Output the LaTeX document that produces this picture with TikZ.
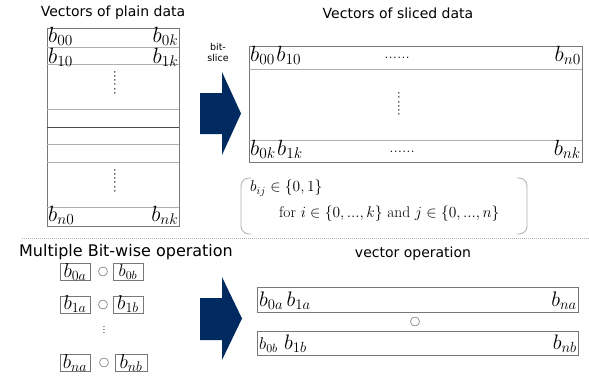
\RequirePackage{fix-cm}
\documentclass[tikz,border=0pt]{standalone}
\usepackage{xcolor}
\usepackage{fontspec}
\newfontfamily\labelfont{DejaVu Sans}
\usetikzlibrary{positioning}
\definecolor{slicenavy}{RGB}{0, 42, 96}
\definecolor{framegray}{RGB}{120, 120, 120}

\begin{document}
\begin{tikzpicture}[
    x=1pt, y=-1pt,
    title/.style={font=\labelfont\fontsize{14}{16}\selectfont},
    frame/.style={rectangle, draw=framegray, line width=0.8pt, inner sep=0pt},
    rowline/.style={draw=framegray!60, line width=0.8pt},
    bit/.style={inner sep=0pt, font=\fontsize{22}{24}\selectfont},
    vbit/.style={inner sep=0pt, font=\fontsize{21}{22}\selectfont},
    dots/.style={inner sep=0pt, font=\fontsize{17}{18}\selectfont},
    bitbox/.style={rectangle, draw=framegray, line width=0.8pt, minimum width=30pt, minimum height=17pt, inner sep=0pt, font=\fontsize{20}{22}\selectfont},
    opsym/.style={inner sep=0pt, font=\fontsize{10}{11}\selectfont},
    bracket/.style={draw=framegray!60, line width=0.8pt, rounded corners=8pt}
]
    \useasboundingbox (0,0) rectangle (589,383);

    % Plain data
    \node[title] (plaintitle) at (113,13) {Vectors of plain data};
    \node[frame, minimum width=132pt, minimum height=198pt] (plain) at (113,127) {};
    \draw[rowline] (plain.west |- 0,47) -- (plain.east |- 0,47);
    \draw[rowline] (plain.west |- 0,64) -- (plain.east |- 0,64);
    \draw[rowline] (plain.west |- 0,109) -- (plain.east |- 0,109);
    \draw[draw=black!70, line width=0.8pt] (plain.west |- 0,127) -- (plain.east |- 0,127);
    \draw[rowline] (plain.west |- 0,144) -- (plain.east |- 0,144);
    \draw[rowline] (plain.west |- 0,162) -- (plain.east |- 0,162);
    \draw[rowline] (plain.west |- 0,207) -- (plain.east |- 0,207);
    \node[bit, anchor=base west] (p00) at (48,42.5) {$b_{00}$};
    \node[bit, anchor=base east] (p0k) at (178.5,42.5) {$b_{0k}$};
    \node[bit, anchor=base west] (p10) at (48,63) {$b_{10}$};
    \node[bit, anchor=base east] (p1k) at (178.5,63) {$b_{1k}$};
    \node[dots, rotate=90] (pdotsa) at (115,82.5) {......};
    \node[dots, rotate=90] (pdotsb) at (115,180.5) {......};
    \node[bit, anchor=base west] (pn0) at (48,221) {$b_{n0}$};
    \node[bit, anchor=base east] (pnk) at (178.5,221) {$b_{nk}$};

    % Bit-slice arrow
    \node[align=center, inner sep=0pt, font=\labelfont\fontsize{9.5}{11}\selectfont] (slicetext) at (218,52) {bit-\\slice};
    \fill[slicenavy] (200,93) -- (222,93) -- (222,72) -- (241,113.5) -- (222,155) -- (222,134) -- (200,134) -- cycle;

    % Sliced data
    \node[title] (slicedtitle) at (398,13) {Vectors of sliced data};
    \node[frame, minimum width=333pt, minimum height=116pt] (sliced) at (415.5,104) {};
    \draw[rowline] (sliced.west |- 0,69) -- (sliced.east |- 0,69);
    \draw[rowline] (sliced.west |- 0,140) -- (sliced.east |- 0,140);
    \node[bit, anchor=base west] (s00) at (250,61) {$b_{00}$};
    \node[bit, base right=1pt of s00] (s10) {$b_{10}$};
    \node[dots, anchor=base] (sdotsa) at (397,58) {......};
    \node[bit, anchor=base east] (sn0) at (581,61) {$b_{n0}$};
    \node[dots, rotate=90] (sdotsb) at (399,104) {......};
    \node[bit, anchor=base west] (s0k) at (250,155) {$b_{0k}$};
    \node[bit, base right=1pt of s0k] (s1k) {$b_{1k}$};
    \node[dots, anchor=base] (sdotsc) at (402,152) {......};
    \node[bit, anchor=base east] (snk) at (581,155) {$b_{nk}$};

    % Condition
    \node[inner sep=0pt, align=left, anchor=north west, font=\fontsize{15.5}{26}\selectfont] (cond) at (250,180) {$b_{ij} \in \{0,1\}$\\\hspace{29pt}for $i \in \{0,...,k\}$ and $j \in \{0,...,n\}$};
    \draw[bracket] (251,178) -| (241,234) -- (251,234);
    \draw[bracket] (517,178) -| (527,234) -- (517,234);

    % Separator
    \draw[framegray!60, dash pattern=on 1pt off 1pt] (22,238.5) -- (589,238.5);

    % Bit-wise operation
    \node[font=\labelfont\fontsize{16}{18}\selectfont] (optitle) at (126,252) {Multiple Bit-wise operation};
    \node[bitbox] (b0a) at (75,272) {$b_{0a}$};
    \node[opsym] (op0) at (103,272) {$\bigcirc$};
    \node[bitbox, font=\fontsize{17}{20}\selectfont] (b0b) at (128,272) {$b_{0b}$};
    \node[bitbox] (b1a) at (75,304.5) {$b_{1a}$};
    \node[opsym] (op1) at (103,304.5) {$\bigcirc$};
    \node[bitbox] (b1b) at (128,304.5) {$b_{1b}$};
    \node[inner sep=0pt, rotate=90, font=\fontsize{11}{12}\selectfont] (opdots) at (104,330) {...};
    \node[bitbox] (bna) at (75,363) {$b_{na}$};
    \node[opsym] (opn) at (104,363) {$\bigcirc$};
    \node[bitbox, minimum width=32pt] (bnb) at (131,363) {$b_{nb}$};

    % Vector arrow
    \fill[slicenavy] (200,298) -- (222,298) -- (222,277) -- (242,318.5) -- (222,360) -- (222,340) -- (200,340) -- cycle;

    % Vector operation
    \node[title] (vectitle) at (413,254) {vector operation};
    \node[frame, minimum width=321pt, minimum height=25pt] (veca) at (417.5,299.5) {};
    \node[frame, minimum width=321pt, minimum height=24pt] (vecb) at (417.5,343) {};
    \node[vbit, anchor=base west] (v0a) at (259,306) {$b_{0a}$};
    \node[vbit, base right=3pt of v0a] (v1a) {$b_{1a}$};
    \node[vbit, anchor=base east] (vna) at (577,306) {$b_{na}$};
    \node[opsym] (vop) at (415,322) {$\bigcirc$};
    \node[vbit, anchor=base west, font=\fontsize{17}{20}\selectfont] (v0b) at (259,349.5) {$b_{0b}$};
    \node[vbit, base right=6pt of v0b] (v1b) {$b_{1b}$};
    \node[vbit, anchor=base east] (vnb) at (577,349.5) {$b_{nb}$};
\end{tikzpicture}
\end{document}
